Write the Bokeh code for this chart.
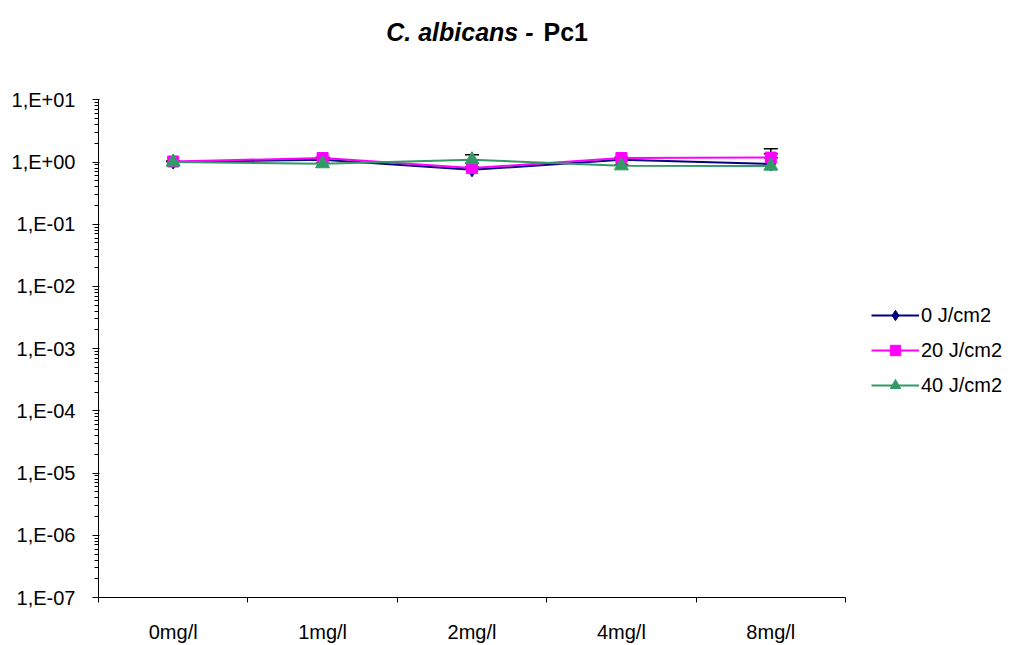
import math
from bokeh.plotting import figure
from bokeh.models import (Range1d, FixedTicker, CustomJSTickFormatter, Legend, LegendItem,
                          ColumnDataSource, Whisker, TeeHead, Label)
from bokeh.embed import file_html
from bokeh.resources import INLINE

categories = ["0mg/l", "1mg/l", "2mg/l", "4mg/l", "8mg/l"]
series_names = ["0 J/cm2", "20 J/cm2", "40 J/cm2"]
j0 = [1.00, 1.09, 0.75, 1.09, 0.93]
j20 = [1.02, 1.16, 0.80, 1.16, 1.18]
j40 = [1.00, 0.94, 1.09, 0.87, 0.86]
j0_sd = [0.02, 0.07, 0.03, 0.03, 0.43]
j20_sd = [0.02, 0.03, 0.03, 0.03, 0.45]
j40_sd = [0.02, 0.02, 0.22, 0.03, 0.31]
y_tick_values = [1e-7, 1e-6, 1e-5, 1e-4, 1e-3, 1e-2, 1e-1, 1e0, 1e1]
y_tick_labels = ["1,E-07", "1,E-06", "1,E-05", "1,E-04", "1,E-03", "1,E-02", "1,E-01", "1,E+00", "1,E+01"]

FONT = "Liberation Sans"
xs = [i + 0.5 for i in range(len(categories))]

# layout geometry (pixels): axes box 98..845 x 100..601 inside a 1012x645 canvas
W, H = 1012, 645
AX_L, AX_R, AX_T, AX_B = 98, 845, 100, 601
frame_w = W - AX_L
frame_h = AX_B
n = len(categories)
x_max = n * frame_w / (AX_R - AX_L)
ylo, yhi = y_tick_values[0], y_tick_values[-1]
dec = math.log10(yhi) - math.log10(ylo)
y_top = 10 ** (math.log10(ylo) + dec * frame_h / (AX_B - AX_T))

p = figure(width=W, height=H, y_axis_type="log", output_backend="svg", toolbar_location=None,
           x_range=Range1d(0, x_max), y_range=Range1d(ylo, y_top),
           min_border_left=AX_L, min_border_right=0, min_border_top=0, min_border_bottom=H - AX_B)
p.outline_line_color = None
p.xgrid.visible = False
p.ygrid.visible = False
p.background_fill_color = "white"
p.border_fill_color = "white"

# y axis
minor = [m * 10.0 ** e for e in range(-7, 1) for m in range(2, 10)]
p.yaxis.ticker = FixedTicker(ticks=y_tick_values, minor_ticks=minor)
p.yaxis.bounds = (ylo, yhi)
p.yaxis.formatter = CustomJSTickFormatter(args=dict(vals=y_tick_values, labs=y_tick_labels), code="""
    let best = 0, bd = 1e9;
    for (let i = 0; i < vals.length; i++) {
        const d = Math.abs(Math.log10(vals[i]) - Math.log10(tick));
        if (d < bd) { bd = d; best = i; }
    }
    return labs[best];
""")
p.yaxis.major_tick_out = 6
p.yaxis.major_tick_in = 1
p.yaxis.minor_tick_out = 4
p.yaxis.minor_tick_in = 0
p.yaxis.major_label_standoff = 17

# x axis
p.xaxis.ticker = FixedTicker(ticks=xs, minor_ticks=list(range(n + 1)))
p.xaxis.bounds = (0, n)
p.xaxis.major_label_overrides = {x: c for x, c in zip(xs, categories)}
p.xaxis.major_tick_out = 0
p.xaxis.major_tick_in = 0
p.xaxis.minor_tick_out = 5
p.xaxis.minor_tick_in = 0
p.xaxis.major_label_standoff = 18

for ax in (p.xaxis, p.yaxis):
    ax.axis_line_color = "black"
    ax.major_tick_line_color = "black"
    ax.minor_tick_line_color = "black"
    ax.major_label_text_font = FONT
    ax.major_label_text_font_size = "20px"
    ax.major_label_text_color = "black"

colors = ["#000080", "#FF00FF", "#339966"]
markers = ["diamond", "square", "triangle"]
sizes = [14, 11, 14]
vals = [j0, j20, j40]
sds = [j0_sd, j20_sd, j40_sd]

items = []
for name, v, sd, c, m, s in zip(series_names, vals, sds, colors, markers, sizes):
    src = ColumnDataSource(dict(x=xs, y=v, upper=[a + b for a, b in zip(v, sd)]))
    w = Whisker(source=src, base="x", lower="y", upper="upper", dimension="height",
                line_color="black", line_width=1.5,
                upper_head=TeeHead(size=14, line_color="black", line_width=1.5), lower_head=None)
    p.add_layout(w)
for name, v, sd, c, m, s in zip(series_names, vals, sds, colors, markers, sizes):
    src = ColumnDataSource(dict(x=xs, y=v))
    r1 = p.line("x", "y", source=src, line_color=c, line_width=2)
    r2 = p.scatter("x", "y", source=src, marker=m, size=s, fill_color=c, line_color=c)
    items.append(LegendItem(label=name, renderers=[r1, r2]))

legend = Legend(items=items, location=(773, 199), border_line_color=None,
                background_fill_alpha=0, label_text_font=FONT, label_text_font_size="20px",
                label_text_color="black",
                glyph_width=48, glyph_height=26, label_standoff=2, spacing=9,
                padding=7, margin=0)
p.add_layout(legend, "center")

t1 = Label(x=435, y=566, x_units="screen", y_units="screen", text="C. albicans -",
           text_font=FONT, text_font_style="bold italic", text_font_size="25px", text_align="right",
           text_baseline="alphabetic", text_color="black")
t2 = Label(x=445, y=566, x_units="screen", y_units="screen", text="Pc1",
           text_font=FONT, text_font_style="bold", text_font_size="25px", text_align="left",
           text_baseline="alphabetic", text_color="black")
p.add_layout(t1)
p.add_layout(t2)

open("out.html", "w").write(file_html(p, INLINE))
